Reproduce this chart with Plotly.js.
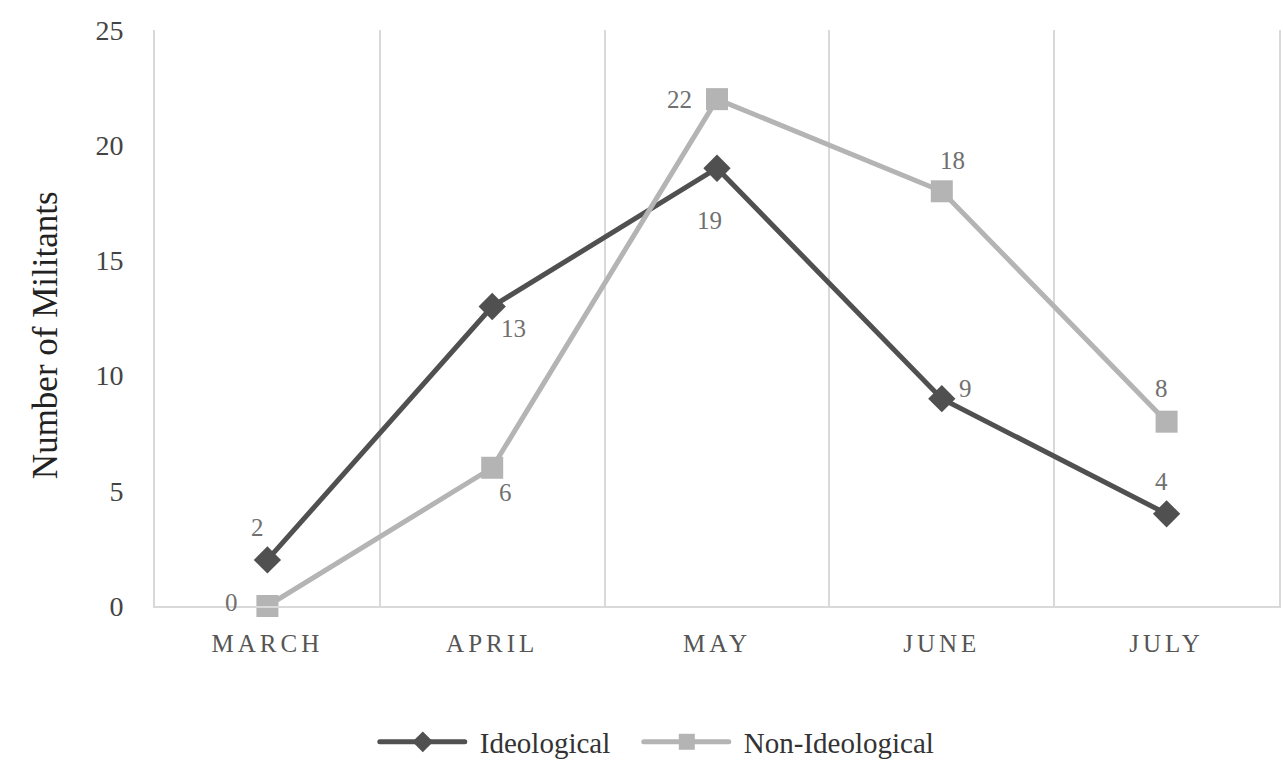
<!DOCTYPE html>
<html>
<head>
<meta charset="utf-8">
<script src="https://cdn.plot.ly/plotly-3.0.1.min.js"></script>
<style>
  body { margin: 0; background: #fff; }
  #chart { width: 1283px; height: 776px; }
  .xtick text { letter-spacing: 4px; }
</style>
</head>
<body>
<div id="chart"></div>
<script>
var months = ["MARCH", "APRIL", "MAY", "JUNE", "JULY"];
var ideological = [2, 13, 19, 9, 4];
var nonIdeological = [0, 6, 22, 18, 8];

// label offsets from the point, in pixels (dx, dy up)
var ideoShiftX = [-10, 21, -8, 24, -5];
var ideoShiftY = [32, -22, -52, 10, 32];
var nonShiftX = [-36, 13, -38, 11, -5];
var nonShiftY = [4, -25, 0, 31, 33];

var serif = "Liberation Serif";

var traceIdeo = {
    x: months,
    y: ideological,
    type: "scatter",
    mode: "lines+markers",
    name: "Ideological",
    line: {color: "#505050", width: 5},
    marker: {symbol: "diamond", size: 21, color: "#505050"},
    cliponaxis: false
};

var traceNon = {
    x: months,
    y: nonIdeological,
    type: "scatter",
    mode: "lines+markers",
    name: "Non-Ideological",
    line: {color: "#b4b4b4", width: 5},
    marker: {symbol: "square", size: 22, color: "#b4b4b4"},
    cliponaxis: false
};

var data = [traceIdeo, traceNon];

var labels = [];
function addLabels(vals, sx, sy) {
    vals.forEach(function (v, i) {
        labels.push({
            x: months[i],
            y: v,
            xref: "x",
            yref: "y",
            text: String(v),
            showarrow: false,
            xshift: sx[i],
            yshift: sy[i],
            font: {family: serif, size: 25, color: "#707070"}
        });
    });
}
addLabels(ideological, ideoShiftX, ideoShiftY);
addLabels(nonIdeological, nonShiftX, nonShiftY);

labels.push({
    text: "Number of Militants",
    xref: "paper",
    yref: "paper",
    x: -0.098,
    y: 0.47,
    xanchor: "center",
    yanchor: "middle",
    textangle: -90,
    showarrow: false,
    font: {family: serif, size: 35, color: "#222"}
});

var layout = {
    width: 1283,
    height: 776,
    margin: {l: 155, r: 4, t: 30, b: 170},
    paper_bgcolor: "#ffffff",
    plot_bgcolor: "#ffffff",
    font: {family: serif, color: "#333"},
    showlegend: true,
    legend: {
        orientation: "h",
        x: 0.2,
        xanchor: "left",
        y: -0.236,
        yanchor: "middle",
        itemwidth: 90,
        entrywidth: 159,
        bgcolor: "rgba(0,0,0,0)",
        font: {family: serif, size: 29, color: "#333"},
        traceorder: "normal"
    },
    xaxis: {
        type: "category",
        range: [-0.5, 4.5],
        tickson: "boundaries",
        showgrid: true,
        gridcolor: "#d9d9d9",
        gridwidth: 2,
        showline: true,
        linecolor: "#d9d9d9",
        linewidth: 2,
        ticks: "",
        ticklabelstandoff: 14,
        tickfont: {family: serif, size: 25, color: "#555"},
        zeroline: false,
        fixedrange: true
    },
    yaxis: {
        range: [0, 25],
        tickvals: [0, 5, 10, 15, 20, 25],
        showgrid: false,
        zeroline: false,
        showline: true,
        mirror: true,
        linecolor: "#d9d9d9",
        linewidth: 2,
        ticks: "",
        ticklabelstandoff: 24,
        tickfont: {family: serif, size: 28, color: "#444"},
        fixedrange: true
    },
    annotations: labels
};

Plotly.newPlot("chart", data, layout, {displayModeBar: false, staticPlot: true}).then(function (gd) {
    // stretch the legend sample lines to look like the original
    gd.querySelectorAll(".legend .legendlines path").forEach(function (p) {
        p.setAttribute("d", "M0,0h85");
        p.style.strokeLinecap = "round";
    });
    gd.querySelectorAll(".legend .legendpoints path").forEach(function (p) {
        p.setAttribute("transform", "translate(43,0)");
    });
    // fixed entry width would clip the longer label
    gd.querySelectorAll(".legend [clip-path]").forEach(function (el) {
        el.removeAttribute("clip-path");
    });
});
</script>
</body>
</html>
